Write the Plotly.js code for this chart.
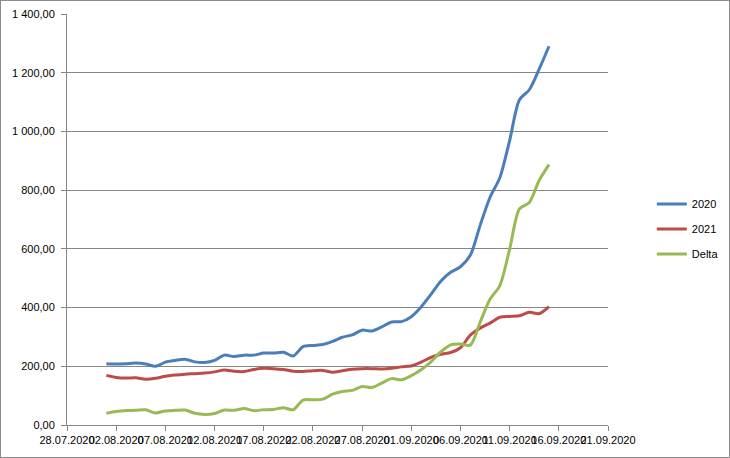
<!DOCTYPE html>
<html>
<head>
<meta charset="utf-8">
<script src="https://cdn.plot.ly/plotly-3.0.1.min.js"></script>
<style>
  html, body { margin: 0; padding: 0; background: #fff; overflow: hidden; }
  #wrap { position: relative; width: 730px; height: 458px; overflow: hidden; }
  #chart { position: absolute; left: 0; top: 0; width: 770px; height: 458px; }
  #frame { position: absolute; left: 0; top: 0; width: 730px; height: 458px;
           box-sizing: border-box; border: 1px solid #8c8c8c; pointer-events: none; }
</style>
</head>
<body>
<div id="wrap"><div id="chart"></div><div id="frame"></div></div>
<script>
// Dates: daily from 01.08.2020 to 15.09.2020
const dates = [
  '2020-08-01','2020-08-02','2020-08-03','2020-08-04','2020-08-05','2020-08-06','2020-08-07','2020-08-08',
  '2020-08-09','2020-08-10','2020-08-11','2020-08-12','2020-08-13','2020-08-14','2020-08-15','2020-08-16',
  '2020-08-17','2020-08-18','2020-08-19','2020-08-20','2020-08-21','2020-08-22','2020-08-23','2020-08-24',
  '2020-08-25','2020-08-26','2020-08-27','2020-08-28','2020-08-29','2020-08-30','2020-08-31','2020-09-01',
  '2020-09-02','2020-09-03','2020-09-04','2020-09-05','2020-09-06','2020-09-07','2020-09-08','2020-09-09',
  '2020-09-10','2020-09-11','2020-09-12','2020-09-13','2020-09-14','2020-09-15'
];

const values2020 = [
  209, 208, 209, 211, 208, 200, 214, 220, 224, 215, 213, 220, 238, 233, 238, 238,
  245, 245, 248, 235, 267, 271, 274, 285, 299, 307, 323, 320, 334, 351, 352, 369,
  402, 445, 490, 520, 539, 578, 680, 775, 842, 969, 1108, 1142, 1212, 1290
];

const values2021 = [
  169, 162, 160, 161, 156, 159, 166, 170, 173, 175, 177, 181, 187, 183, 182, 189,
  193, 192, 189, 183, 182, 185, 186, 180, 185, 190, 192, 192, 191, 193, 198, 201,
  214, 230, 241, 247, 263, 306, 330, 347, 367, 370, 372, 384, 379, 403
];

const valuesDelta = [
  40, 46, 49, 50, 52, 41, 48, 50, 51, 40, 36, 39, 51, 50, 56, 49,
  52, 53, 59, 52, 85, 86, 88, 105, 114, 118, 131, 128, 143, 158, 154, 168,
  188, 215, 249, 273, 276, 272, 350, 428, 475, 599, 736, 758, 833, 887
];

const seriesNames = ['2020', '2021', 'Delta'];
const seriesColors = ['#4A7EBB', '#BE4B48', '#98B954'];
const seriesValues = [values2020, values2021, valuesDelta];

const traces = seriesValues.map((vals, i) => ({
  x: dates,
  y: vals,
  type: 'scatter',
  mode: 'lines',
  name: seriesNames[i],
  legendgroup: 'g' + i,
  line: { color: seriesColors[i], width: 3, shape: 'spline', smoothing: 0.8 },
  hoverinfo: 'skip'
}));

const layout = {
  width: 770,
  height: 458,
  margin: { l: 67, r: 162, t: 14, b: 33 },
  paper_bgcolor: '#ffffff',
  plot_bgcolor: '#ffffff',
  separators: ', ',
  font: { family: 'Liberation Sans, Arial, sans-serif', size: 11, color: '#000000' },
  showlegend: true,
  legend: {
    x: 1.081, xanchor: 'left',
    y: 0.477, yanchor: 'middle',
    traceorder: 'grouped',
    tracegroupgap: 6,
    itemwidth: 30,
    font: { family: 'Liberation Sans, Arial, sans-serif', size: 11, color: '#000000' },
    bgcolor: 'rgba(0,0,0,0)'
  },
  xaxis: {
    type: 'date',
    range: ['2020-07-28', '2020-09-21'],
    tick0: '2020-07-28',
    dtick: 5 * 86400000,
    tickformat: '%d.%m.%Y',
    ticks: 'outside',
    ticklen: 5,
    tickcolor: '#868686',
    showline: true,
    linecolor: '#868686',
    linewidth: 1,
    showgrid: false,
    zeroline: false,
    tickangle: 0,
    fixedrange: true
  },
  yaxis: {
    range: [0, 1400],
    dtick: 200,
    tick0: 0,
    tickformat: ',.2f',
    ticks: 'outside',
    ticklen: 5,
    ticklabelstandoff: 4,
    tickcolor: '#868686',
    showline: true,
    linecolor: '#868686',
    linewidth: 1,
    showgrid: true,
    gridcolor: '#868686',
    gridwidth: 1,
    zeroline: false,
    fixedrange: true
  }
};

Plotly.newPlot('chart', traces, layout, { displayModeBar: false, staticPlot: true });
</script>
</body>
</html>
